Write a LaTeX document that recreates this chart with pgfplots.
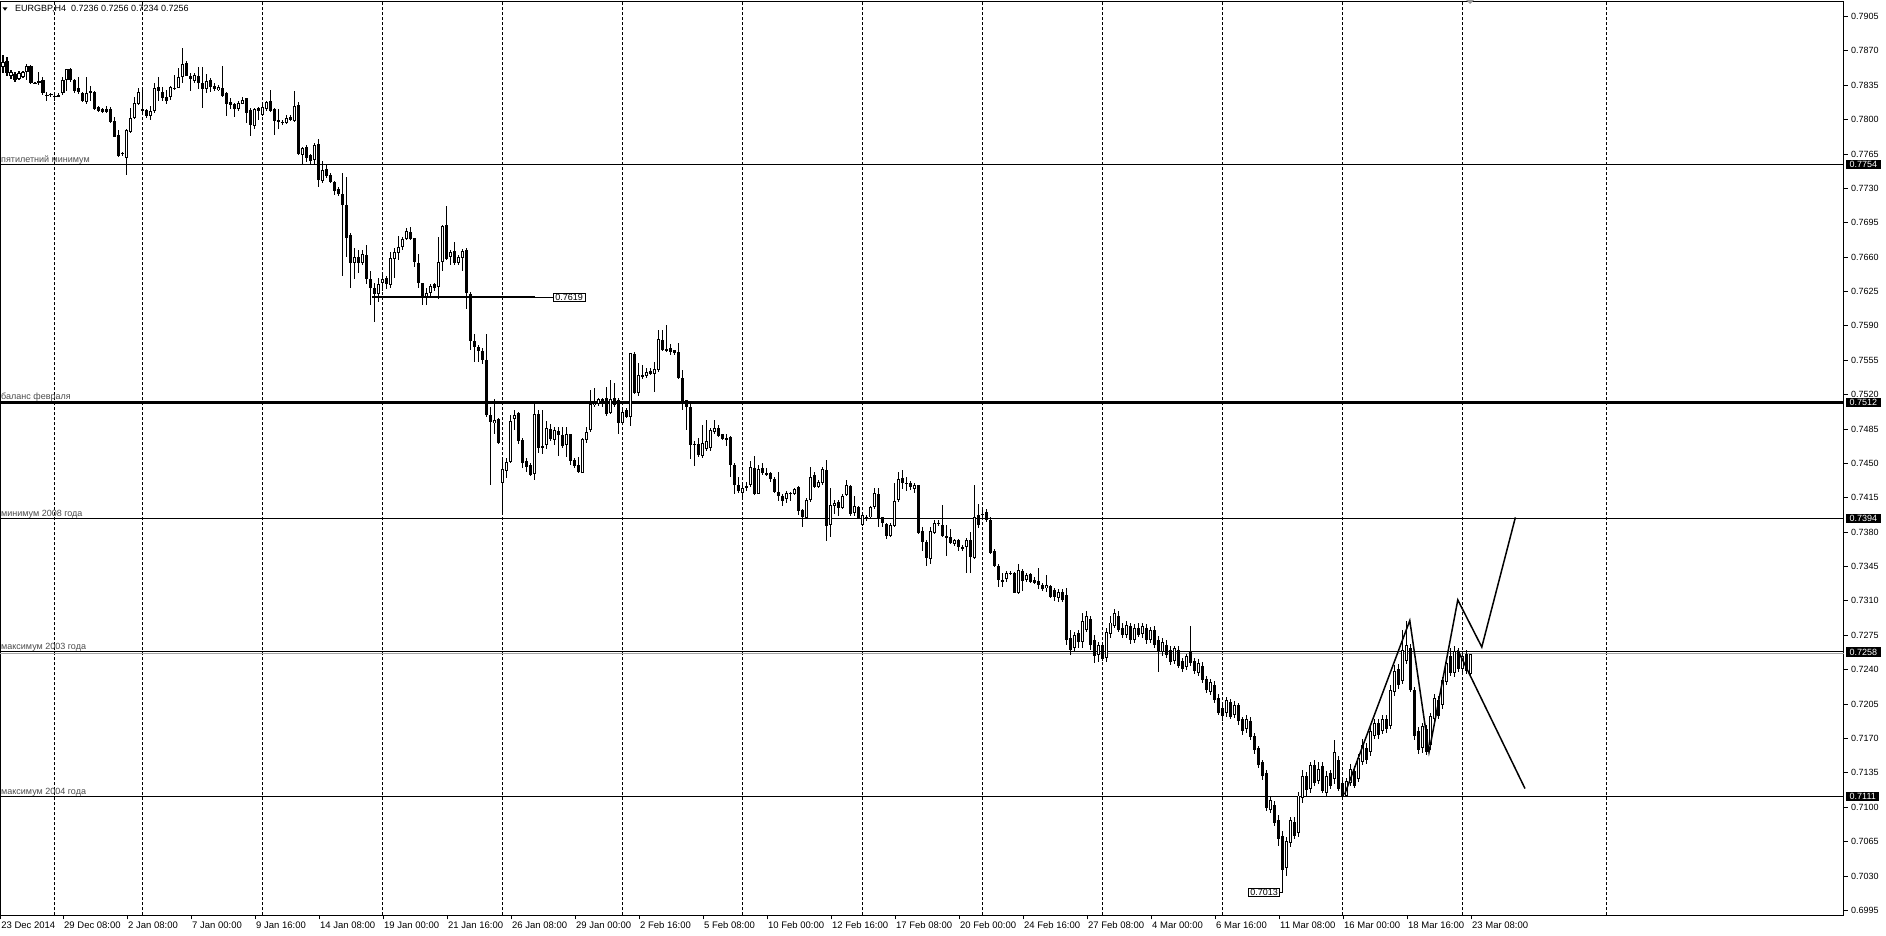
\documentclass[border=0pt]{standalone}
\usepackage{pgfplots}
\pgfplotsset{compat=1.18}
\usepackage{pgfplotstable}
\usepackage{fontspec}
\setmainfont{Liberation Sans}
\pgfplotstableread{
i o h l c
-13 0.7854 0.7866 0.7847 0.7859
-12 0.7860 0.7864 0.7844 0.7847
-11 0.7844 0.7850 0.7841 0.7848
-10 0.7846 0.7848 0.7838 0.7840
-9 0.7841 0.7849 0.7840 0.7847
-8 0.7843 0.7850 0.7842 0.7848
-7 0.7848 0.7857 0.7840 0.7855
-6 0.7854 0.7855 0.7836 0.7837
-5 0.7837 0.7838 0.7836 0.7837
-4 0.7839 0.7848 0.7835 0.7837
-3 0.7840 0.7843 0.7825 0.7827
-2 0.7825 0.7828 0.7819 0.7825
-1 0.7825 0.7827 0.7823 0.7826
0 0.7823 0.7827 0.7819 0.7824
1 0.7824 0.7827 0.7823 0.7825
2 0.7827 0.7843 0.7825 0.7840
3 0.7840 0.7852 0.7829 0.7852
4 0.7852 0.7852 0.7838 0.7840
5 0.7840 0.7841 0.7827 0.7829
6 0.7832 0.7843 0.7826 0.7828
7 0.7827 0.7828 0.7818 0.7819
8 0.7818 0.7843 0.7816 0.7827
9 0.7829 0.7834 0.7819 0.7827
10 0.7828 0.7829 0.7810 0.7811
11 0.7813 0.7814 0.7808 0.7809
12 0.7811 0.7812 0.7807 0.7808
13 0.7811 0.7814 0.7807 0.7808
14 0.7811 0.7813 0.7797 0.7798
15 0.7799 0.7803 0.7782 0.7782
16 0.7784 0.7789 0.7762 0.7763
17 0.7766 0.7767 0.7763 0.7765
18 0.7761 0.7790 0.7744 0.7789
19 0.7787 0.7812 0.7786 0.7802
20 0.7802 0.7823 0.7801 0.7817
21 0.7816 0.7832 0.7815 0.7828
22 0.7811 0.7830 0.7806 0.7809
23 0.7810 0.7811 0.7802 0.7804
24 0.7804 0.7814 0.7800 0.7809
25 0.7809 0.7837 0.7807 0.7832
26 0.7833 0.7843 0.7819 0.7829
27 0.7828 0.7833 0.7819 0.7822
28 0.7823 0.7830 0.7816 0.7819
29 0.7823 0.7834 0.7820 0.7833
30 0.7832 0.7845 0.7830 0.7832
31 0.7832 0.7853 0.7832 0.7843
32 0.7843 0.7873 0.7837 0.7857
33 0.7858 0.7860 0.7844 0.7844
34 0.7844 0.7847 0.7829 0.7841
35 0.7839 0.7847 0.7837 0.7845
36 0.7844 0.7853 0.7831 0.7837
37 0.7837 0.7853 0.7812 0.7831
38 0.7831 0.7846 0.7827 0.7839
39 0.7840 0.7842 0.7828 0.7833
40 0.7834 0.7837 0.7829 0.7831
41 0.7830 0.7835 0.7829 0.7833
42 0.7832 0.7855 0.7823 0.7824
43 0.7827 0.7828 0.7804 0.7816
44 0.7818 0.7822 0.7811 0.7815
45 0.7816 0.7817 0.7803 0.7811
46 0.7811 0.7819 0.7809 0.7817
47 0.7816 0.7823 0.7816 0.7820
48 0.7822 0.7822 0.7797 0.7807
49 0.7810 0.7812 0.7783 0.7794
50 0.7793 0.7812 0.7790 0.7811
51 0.7812 0.7813 0.7800 0.7809
52 0.7805 0.7815 0.7804 0.7813
53 0.7811 0.7819 0.7809 0.7818
54 0.7819 0.7830 0.7808 0.7809
55 0.7811 0.7812 0.7784 0.7799
56 0.7800 0.7811 0.7790 0.7797
57 0.7797 0.7800 0.7794 0.7797
58 0.7797 0.7805 0.7796 0.7802
59 0.7803 0.7805 0.7799 0.7800
60 0.7799 0.7829 0.7797 0.7814
61 0.7815 0.7818 0.7764 0.7765
62 0.7764 0.7772 0.7754 0.7771
63 0.7772 0.7774 0.7757 0.7761
64 0.7764 0.7765 0.7754 0.7758
65 0.7759 0.7776 0.7754 0.7774
66 0.7775 0.7780 0.7731 0.7738
67 0.7738 0.7758 0.7735 0.7749
68 0.7750 0.7755 0.7740 0.7743
69 0.7744 0.7746 0.7735 0.7736
70 0.7736 0.7738 0.7723 0.7727
71 0.7729 0.7731 0.7722 0.7724
72 0.7724 0.7746 0.7641 0.7713
73 0.7713 0.7741 0.7660 0.7680
74 0.7682 0.7684 0.7628 0.7654
75 0.7654 0.7669 0.7638 0.7660
76 0.7660 0.7667 0.7644 0.7654
77 0.7654 0.7667 0.7652 0.7663
78 0.7662 0.7672 0.7633 0.7638
79 0.7638 0.7646 0.7611 0.7629
80 0.7629 0.7634 0.7594 0.7622
81 0.7623 0.7639 0.7614 0.7633
82 0.7634 0.7644 0.7626 0.7638
83 0.7639 0.7641 0.7628 0.7633
84 0.7632 0.7665 0.7629 0.7659
85 0.7658 0.7669 0.7639 0.7665
86 0.7664 0.7682 0.7657 0.7670
87 0.7670 0.7680 0.7667 0.7678
88 0.7678 0.7690 0.7677 0.7687
89 0.7686 0.7691 0.7677 0.7678
90 0.7679 0.7679 0.7650 0.7655
91 0.7654 0.7663 0.7629 0.7634
92 0.7634 0.7634 0.7611 0.7619
93 0.7619 0.7628 0.7611 0.7623
94 0.7623 0.7633 0.7619 0.7631
95 0.7633 0.7634 0.7626 0.7629
96 0.7630 0.7680 0.7617 0.7655
97 0.7655 0.7693 0.7646 0.7692
98 0.7693 0.7712 0.7657 0.7658
99 0.7660 0.7667 0.7652 0.7665
100 0.7666 0.7675 0.7652 0.7654
101 0.7654 0.7662 0.7652 0.7660
102 0.7659 0.7668 0.7646 0.7666
103 0.7667 0.7669 0.7607 0.7623
104 0.7623 0.7624 0.7565 0.7575
105 0.7575 0.7582 0.7553 0.7569
106 0.7569 0.7570 0.7553 0.7564
107 0.7564 0.7568 0.7551 0.7555
108 0.7555 0.7582 0.7497 0.7499
109 0.7499 0.7507 0.7428 0.7492
110 0.7491 0.7516 0.7480 0.7494
111 0.7495 0.7496 0.7470 0.7471
112 0.7430 0.7456 0.7400 0.7444
113 0.7442 0.7456 0.7435 0.7451
114 0.7451 0.7499 0.7450 0.7493
115 0.7495 0.7504 0.7484 0.7499
116 0.7501 0.7502 0.7470 0.7473
117 0.7474 0.7476 0.7445 0.7450
118 0.7452 0.7456 0.7441 0.7446
119 0.7448 0.7450 0.7437 0.7438
120 0.7439 0.7511 0.7433 0.7500
121 0.7500 0.7504 0.7461 0.7466
122 0.7468 0.7504 0.7460 0.7466
123 0.7469 0.7493 0.7465 0.7486
124 0.7485 0.7490 0.7473 0.7475
125 0.7474 0.7487 0.7469 0.7484
126 0.7483 0.7487 0.7458 0.7479
127 0.7479 0.7487 0.7466 0.7468
128 0.7469 0.7487 0.7456 0.7480
129 0.7480 0.7480 0.7448 0.7452
130 0.7454 0.7456 0.7445 0.7447
131 0.7448 0.7456 0.7440 0.7441
132 0.7440 0.7476 0.7440 0.7475
133 0.7474 0.7487 0.7471 0.7482
134 0.7484 0.7525 0.7482 0.7511
135 0.7509 0.7527 0.7507 0.7512
136 0.7511 0.7517 0.7508 0.7516
137 0.7516 0.7517 0.7507 0.7511
138 0.7517 0.7528 0.7498 0.7500
139 0.7501 0.7535 0.7500 0.7516
140 0.7517 0.7532 0.7507 0.7509
141 0.7515 0.7517 0.7480 0.7491
142 0.7491 0.7506 0.7489 0.7502
143 0.7504 0.7506 0.7496 0.7497
144 0.7497 0.7562 0.7488 0.7562
145 0.7561 0.7563 0.7521 0.7522
146 0.7522 0.7552 0.7519 0.7540
147 0.7540 0.7550 0.7536 0.7538
148 0.7539 0.7547 0.7537 0.7543
149 0.7544 0.7547 0.7540 0.7541
150 0.7541 0.7553 0.7523 0.7546
151 0.7545 0.7586 0.7543 0.7577
152 0.7576 0.7586 0.7564 0.7565
153 0.7567 0.7591 0.7563 0.7565
154 0.7567 0.7572 0.7560 0.7563
155 0.7565 0.7566 0.7560 0.7562
156 0.7563 0.7573 0.7536 0.7537
157 0.7537 0.7545 0.7504 0.7513
158 0.7515 0.7515 0.7484 0.7507
159 0.7507 0.7511 0.7455 0.7469
160 0.7470 0.7473 0.7447 0.7469
161 0.7470 0.7476 0.7457 0.7459
162 0.7458 0.7489 0.7456 0.7471
163 0.7465 0.7494 0.7463 0.7473
164 0.7466 0.7486 0.7463 0.7484
165 0.7482 0.7494 0.7480 0.7486
166 0.7486 0.7489 0.7477 0.7478
167 0.7480 0.7480 0.7474 0.7475
168 0.7474 0.7480 0.7468 0.7476
169 0.7477 0.7478 0.7436 0.7448
170 0.7448 0.7450 0.7419 0.7428
171 0.7428 0.7436 0.7420 0.7422
172 0.7420 0.7428 0.7416 0.7425
173 0.7427 0.7431 0.7422 0.7425
174 0.7428 0.7453 0.7426 0.7446
175 0.7445 0.7458 0.7418 0.7419
176 0.7419 0.7448 0.7419 0.7444
177 0.7445 0.7450 0.7438 0.7440
178 0.7440 0.7445 0.7437 0.7438
179 0.7440 0.7441 0.7431 0.7434
180 0.7434 0.7436 0.7420 0.7421
181 0.7421 0.7441 0.7412 0.7417
182 0.7417 0.7419 0.7407 0.7412
183 0.7414 0.7422 0.7410 0.7420
184 0.7420 0.7421 0.7412 0.7419
185 0.7419 0.7425 0.7418 0.7424
186 0.7426 0.7427 0.7397 0.7402
187 0.7403 0.7404 0.7385 0.7395
188 0.7394 0.7415 0.7393 0.7413
189 0.7413 0.7446 0.7411 0.7436
190 0.7438 0.7441 0.7425 0.7426
191 0.7426 0.7433 0.7425 0.7431
192 0.7430 0.7446 0.7428 0.7444
193 0.7443 0.7454 0.7371 0.7386
194 0.7387 0.7425 0.7375 0.7408
195 0.7407 0.7413 0.7399 0.7410
196 0.7411 0.7413 0.7396 0.7405
197 0.7405 0.7419 0.7404 0.7417
198 0.7418 0.7433 0.7417 0.7428
199 0.7427 0.7428 0.7397 0.7399
200 0.7399 0.7417 0.7397 0.7407
201 0.7406 0.7407 0.7393 0.7394
202 0.7387 0.7399 0.7386 0.7397
203 0.7396 0.7398 0.7391 0.7393
204 0.7395 0.7407 0.7394 0.7406
205 0.7406 0.7425 0.7404 0.7420
206 0.7419 0.7425 0.7385 0.7394
207 0.7395 0.7396 0.7385 0.7389
208 0.7388 0.7389 0.7373 0.7376
209 0.7376 0.7389 0.7375 0.7387
210 0.7386 0.7430 0.7385 0.7412
211 0.7413 0.7441 0.7411 0.7434
212 0.7435 0.7443 0.7424 0.7430
213 0.7430 0.7436 0.7422 0.7430
214 0.7430 0.7432 0.7423 0.7426
215 0.7424 0.7430 0.7420 0.7428
216 0.7428 0.7428 0.7378 0.7379
217 0.7381 0.7385 0.7361 0.7370
218 0.7370 0.7372 0.7346 0.7354
219 0.7353 0.7385 0.7348 0.7381
220 0.7379 0.7392 0.7378 0.7389
221 0.7389 0.7392 0.7386 0.7389
222 0.7387 0.7408 0.7375 0.7376
223 0.7376 0.7387 0.7356 0.7375
224 0.7375 0.7383 0.7368 0.7369
225 0.7368 0.7373 0.7366 0.7372
226 0.7372 0.7373 0.7361 0.7365
227 0.7364 0.7367 0.7361 0.7364
228 0.7365 0.7374 0.7338 0.7372
229 0.7372 0.7380 0.7338 0.7355
230 0.7354 0.7428 0.7353 0.7395
231 0.7397 0.7409 0.7384 0.7387
232 0.7399 0.7403 0.7396 0.7398
233 0.7400 0.7404 0.7390 0.7392
234 0.7392 0.7395 0.7358 0.7359
235 0.7361 0.7363 0.7345 0.7346
236 0.7346 0.7348 0.7324 0.7331
237 0.7331 0.7338 0.7324 0.7330
238 0.7332 0.7341 0.7329 0.7338
239 0.7338 0.7341 0.7336 0.7338
240 0.7338 0.7339 0.7318 0.7318
241 0.7318 0.7348 0.7317 0.7342
242 0.7341 0.7343 0.7320 0.7330
243 0.7331 0.7338 0.7329 0.7336
244 0.7337 0.7339 0.7328 0.7329
245 0.7331 0.7334 0.7327 0.7328
246 0.7330 0.7344 0.7322 0.7326
247 0.7326 0.7328 0.7320 0.7322
248 0.7323 0.7336 0.7319 0.7326
249 0.7325 0.7326 0.7313 0.7314
250 0.7321 0.7323 0.7310 0.7314
251 0.7313 0.7322 0.7309 0.7319
252 0.7319 0.7322 0.7309 0.7311
253 0.7316 0.7323 0.7265 0.7270
254 0.7272 0.7280 0.7255 0.7260
255 0.7262 0.7278 0.7258 0.7275
256 0.7277 0.7280 0.7262 0.7268
257 0.7268 0.7298 0.7262 0.7290
258 0.7280 0.7300 0.7278 0.7295
259 0.7292 0.7295 0.7260 0.7265
260 0.7270 0.7275 0.7247 0.7254
261 0.7255 0.7268 0.7248 0.7265
262 0.7265 0.7268 0.7249 0.7251
263 0.7252 0.7282 0.7248 0.7278
264 0.7276 0.7295 0.7272 0.7288
265 0.7285 0.7302 0.7282 0.7298
266 0.7295 0.7300 0.7278 0.7280
267 0.7282 0.7288 0.7272 0.7275
268 0.7275 0.7290 0.7272 0.7285
269 0.7285 0.7288 0.7266 0.7270
270 0.7270 0.7286 0.7267 0.7282
271 0.7282 0.7288 0.7273 0.7275
272 0.7276 0.7288 0.7272 0.7284
273 0.7282 0.7286 0.7266 0.7270
274 0.7270 0.7283 0.7267 0.7280
275 0.7280 0.7284 0.7262 0.7265
276 0.7270 0.7274 0.7238 0.7258
277 0.7258 0.7272 0.7254 0.7268
278 0.7265 0.7270 0.7252 0.7255
279 0.7260 0.7264 0.7245 0.7248
280 0.7249 0.7264 0.7246 0.7262
281 0.7260 0.7264 0.7242 0.7244
282 0.7249 0.7252 0.7238 0.7241
283 0.7243 0.7256 0.7240 0.7254
284 0.7258 0.7285 0.7244 0.7247
285 0.7249 0.7252 0.7236 0.7239
286 0.7237 0.7251 0.7234 0.7247
287 0.7244 0.7248 0.7226 0.7229
288 0.7231 0.7234 0.7216 0.7219
289 0.7217 0.7230 0.7214 0.7227
290 0.7224 0.7228 0.7206 0.7209
291 0.7211 0.7215 0.7194 0.7196
292 0.7201 0.7205 0.7188 0.7193
293 0.7196 0.7212 0.7192 0.7209
294 0.7207 0.7210 0.7190 0.7192
295 0.7194 0.7208 0.7191 0.7204
296 0.7204 0.7206 0.7184 0.7188
297 0.7190 0.7192 0.7174 0.7178
298 0.7180 0.7194 0.7176 0.7190
299 0.7188 0.7192 0.7168 0.7172
300 0.7173 0.7176 0.7154 0.7158
301 0.7160 0.7162 0.7140 0.7143
302 0.7146 0.7148 0.7128 0.7132
303 0.7135 0.7138 0.7096 0.7099
304 0.7097 0.7110 0.7094 0.7107
305 0.7102 0.7106 0.7081 0.7084
306 0.7087 0.7092 0.7061 0.7068
307 0.7071 0.7076 0.7014 0.7036
308 0.7038 0.7070 0.7030 0.7066
309 0.7064 0.7090 0.7060 0.7087
310 0.7085 0.7090 0.7068 0.7071
311 0.7074 0.7116 0.7070 0.7112
312 0.7109 0.7138 0.7104 0.7132
313 0.7132 0.7136 0.7112 0.7117
314 0.7119 0.7146 0.7114 0.7143
315 0.7143 0.7148 0.7122 0.7125
316 0.7127 0.7146 0.7124 0.7139
317 0.7142 0.7146 0.7114 0.7117
318 0.7115 0.7137 0.7110 0.7132
319 0.7135 0.7138 0.7119 0.7122
320 0.7129 0.7168 0.7124 0.7156
321 0.7148 0.7152 0.7116 0.7119
322 0.7125 0.7130 0.7109 0.7112
323 0.7112 0.7130 0.7110 0.7127
324 0.7125 0.7144 0.7122 0.7139
325 0.7137 0.7142 0.7120 0.7122
326 0.7129 0.7154 0.7126 0.7150
327 0.7146 0.7170 0.7143 0.7163
328 0.7160 0.7165 0.7144 0.7148
329 0.7156 0.7182 0.7152 0.7178
330 0.7173 0.7190 0.7170 0.7186
331 0.7186 0.7190 0.7170 0.7174
332 0.7178 0.7194 0.7175 0.7190
333 0.7190 0.7194 0.7176 0.7180
334 0.7183 0.7224 0.7180 0.7219
335 0.7217 0.7245 0.7213 0.7239
336 0.7241 0.7246 0.7220 0.7224
337 0.7229 0.7280 0.7225 0.7260
338 0.7249 0.7290 0.7246 0.7265
339 0.7262 0.7266 0.7217 0.7219
340 0.7219 0.7222 0.7168 0.7173
341 0.7178 0.7182 0.7154 0.7158
342 0.7160 0.7186 0.7155 0.7183
343 0.7180 0.7184 0.7153 0.7156
344 0.7163 0.7196 0.7158 0.7193
345 0.7190 0.7215 0.7186 0.7211
346 0.7209 0.7213 0.7190 0.7193
347 0.7204 0.7233 0.7200 0.7229
348 0.7227 0.7251 0.7224 0.7247
349 0.7254 0.7262 0.7234 0.7237
350 0.7237 0.7264 0.7233 0.7259
351 0.7258 0.7262 0.7238 0.7241
352 0.7241 0.7258 0.7236 0.7254
353 0.7256 0.7260 0.7236 0.7239
354 0.7236 0.7256 0.7234 0.7256
}\candles
\begin{document}
\begin{tikzpicture}[x=1pt,y=1pt]
\path[use as bounding box] (0,0) rectangle (1886,935);
\begin{axis}[
  at={(0,20)}, anchor=south west,
  scale only axis, width=1844pt, height=914pt,
  xmin=-13.75, xmax=447.25, ymin=0.69899, ymax=0.79203,
  clip=false,
  axis line style={black, line width=1pt},
  tick align=outside, major tick length=4pt,
  tick style={black, line width=0.8pt},
  xtick pos=bottom, ytick pos=right, yticklabel pos=right,
  tick label style={font=\fontsize{9}{10}\selectfont},
  xtick={-13.7,2,18,34,50,66,82,98,114,130,146,162,178,194,210,226,242,258,274,290,306,322,338,354},
  xticklabels={23 Dec 2014,29 Dec 08:00,2 Jan 08:00,7 Jan 00:00,9 Jan 16:00,14 Jan 08:00,19 Jan 00:00,21 Jan 16:00,26 Jan 08:00,29 Jan 00:00,2 Feb 16:00,5 Feb 08:00,10 Feb 00:00,12 Feb 16:00,17 Feb 08:00,20 Feb 00:00,24 Feb 16:00,27 Feb 08:00,4 Mar 00:00,6 Mar 16:00,11 Mar 08:00,16 Mar 00:00,18 Mar 16:00,23 Mar 08:00},
  xticklabel style={anchor=north west, inner sep=0pt, xshift=1pt, yshift=-2pt, font=\fontsize{9.5}{10}\selectfont},
  ytick={0.6995,0.7030,0.7065,0.7100,0.7135,0.7170,0.7205,0.7240,0.7275,0.7310,0.7345,0.7380,0.7415,0.7450,0.7485,0.7520,0.7555,0.7590,0.7625,0.7660,0.7695,0.7730,0.7765,0.7800,0.7835,0.7870,0.7905},
  yticklabels={0.6995,0.7030,0.7065,0.7100,0.7135,0.7170,0.7205,0.7240,0.7275,0.7310,0.7345,0.7380,0.7415,0.7450,0.7485,0.7520,0.7555,0.7590,0.7625,0.7660,0.7695,0.7730,0.7765,0.7800,0.7835,0.7870,0.7905},
  yticklabel style={anchor=west, inner sep=0pt, xshift=3pt},
  extra x ticks={0,22,52,82,112,142,172,202,232,262,292,322,352,388},
  extra x tick labels={},
  extra x tick style={grid=major, major tick length=0pt, major grid style={black, line width=1pt, dash pattern=on 3pt off 2pt}},
]
% horizontal levels
\addplot[black, line width=1pt] coordinates {(-13.75,0.7754) (447.25,0.7754)};
\addplot[black, line width=3.2pt] coordinates {(-13.75,0.7512) (447.25,0.7512)};
\addplot[black, line width=1pt] coordinates {(-13.75,0.7394) (447.25,0.7394)};
\addplot[black!35, line width=1pt] coordinates {(-13.75,0.72565) (447.25,0.72565)};
\addplot[black, line width=1pt] coordinates {(-13.75,0.7258) (447.25,0.7258)};
\addplot[black, line width=1pt] coordinates {(-13.75,0.7111) (447.25,0.7111)};
% 0.7619 segment
\addplot[black, line width=2pt] coordinates {(79.25,0.7619) (120,0.7619)};
\addplot[black, line width=0.8pt] coordinates {(120,0.7619) (124.5,0.7619)};
% candles: wicks, bodies, white interiors
\addplot[draw=none, error bars/.cd, y dir=both, y explicit, error mark=none,
  error bar style={draw=black, line width=1pt}]
  table[x=i, y expr={(\thisrow{h}+\thisrow{l})/2}, y error expr={(\thisrow{h}-\thisrow{l})/2}] {\candles};
\addplot[draw=none, error bars/.cd, y dir=both, y explicit, error mark=none,
  error bar style={draw=black, line width=3pt}]
  table[x=i, y expr={(\thisrow{o}+\thisrow{c})/2}, y error expr={max(abs(\thisrow{o}-\thisrow{c})/2,0.00005)}] {\candles};
\addplot[draw=none, error bars/.cd, y dir=both, y explicit, error mark=none,
  error bar style={draw=white, line width=1pt}]
  table[x=i, y expr={(\thisrow{o}+\thisrow{c})/2}, y error expr={ifthenelse(\thisrow{c}>\thisrow{o},max((\thisrow{c}-\thisrow{o})/2-0.0001,0),0)}] {\candles};
% zigzag projection
\addplot[black, line width=1.5pt] coordinates {(322.4,0.7113) (338.7,0.7290) (343.5,0.7156) (350.7,0.7311) (356.7,0.7263) (365.1,0.7395)};
\addplot[black, line width=1.5pt] coordinates {(350.7,0.7260) (367.5,0.7119)};
% level texts
\node[anchor=base west, inner sep=0pt, text=black!70, font=\fontsize{9}{10}\selectfont] at (axis cs:-13.5,0.7754) [yshift=2pt] {пятилетний минимум};
\node[anchor=base west, inner sep=0pt, text=black!70, font=\fontsize{9}{10}\selectfont] at (axis cs:-13.5,0.7512) [yshift=3pt] {баланс февраля};
\node[anchor=base west, inner sep=0pt, text=black!70, font=\fontsize{9}{10}\selectfont] at (axis cs:-13.5,0.7394) [yshift=2pt] {минимум 2008 года};
\node[anchor=base west, inner sep=0pt, text=black!70, font=\fontsize{9}{10}\selectfont] at (axis cs:-13.5,0.7258) [yshift=2pt] {максимум 2003 года};
\node[anchor=base west, inner sep=0pt, text=black!70, font=\fontsize{9}{10}\selectfont] at (axis cs:-13.5,0.7111) [yshift=2pt] {максимум 2004 года};
% price boxes
\node[anchor=west, fill=black, text=white, inner xsep=3.5pt, inner ysep=1.5pt, xshift=2pt, font=\fontsize{9}{10}\selectfont] at (axis cs:447.25,0.7754) {0.7754};
\node[anchor=west, fill=black, text=white, inner xsep=3.5pt, inner ysep=1.5pt, xshift=2pt, font=\fontsize{9}{10}\selectfont] at (axis cs:447.25,0.7512) {0.7512};
\node[anchor=west, fill=black, text=white, inner xsep=3.5pt, inner ysep=1.5pt, xshift=2pt, font=\fontsize{9}{10}\selectfont] at (axis cs:447.25,0.7394) {0.7394};
\node[anchor=west, fill=black, text=white, inner xsep=3.5pt, inner ysep=1.5pt, xshift=2pt, font=\fontsize{9}{10}\selectfont] at (axis cs:447.25,0.7258) {0.7258};
\node[anchor=west, fill=black, text=white, inner xsep=3.5pt, inner ysep=1.5pt, xshift=2pt, font=\fontsize{9}{10}\selectfont] at (axis cs:447.25,0.7111) {0.7111};
% price tags
\node[anchor=west, draw=black, fill=white, line width=0.8pt, inner xsep=2pt, inner ysep=1pt, font=\fontsize{9}{10}\selectfont] at (axis cs:124.5,0.7619) {0.7619};
\addplot[black, line width=0.8pt] coordinates {(306.3,0.7013) (307,0.7013)};
\node[anchor=east, draw=black, fill=white, line width=0.8pt, inner xsep=2pt, inner ysep=1pt, font=\fontsize{9}{10}\selectfont] at (axis cs:306.3,0.7013) {0.7013};
\end{axis}
% header
\fill[black] (2.5,927.7) -- (7.5,927.7) -- (5,924.3) -- cycle;
\node[anchor=base west, inner sep=0pt, font=\fontsize{9}{10}\selectfont] at (15,923.5) {EURGBP,H4\hspace{5pt}0.7236 0.7256 0.7234 0.7256};
\fill[black!40] (1466,935) -- (1474,935) -- (1470,931) -- cycle;
\end{tikzpicture}
\end{document}
